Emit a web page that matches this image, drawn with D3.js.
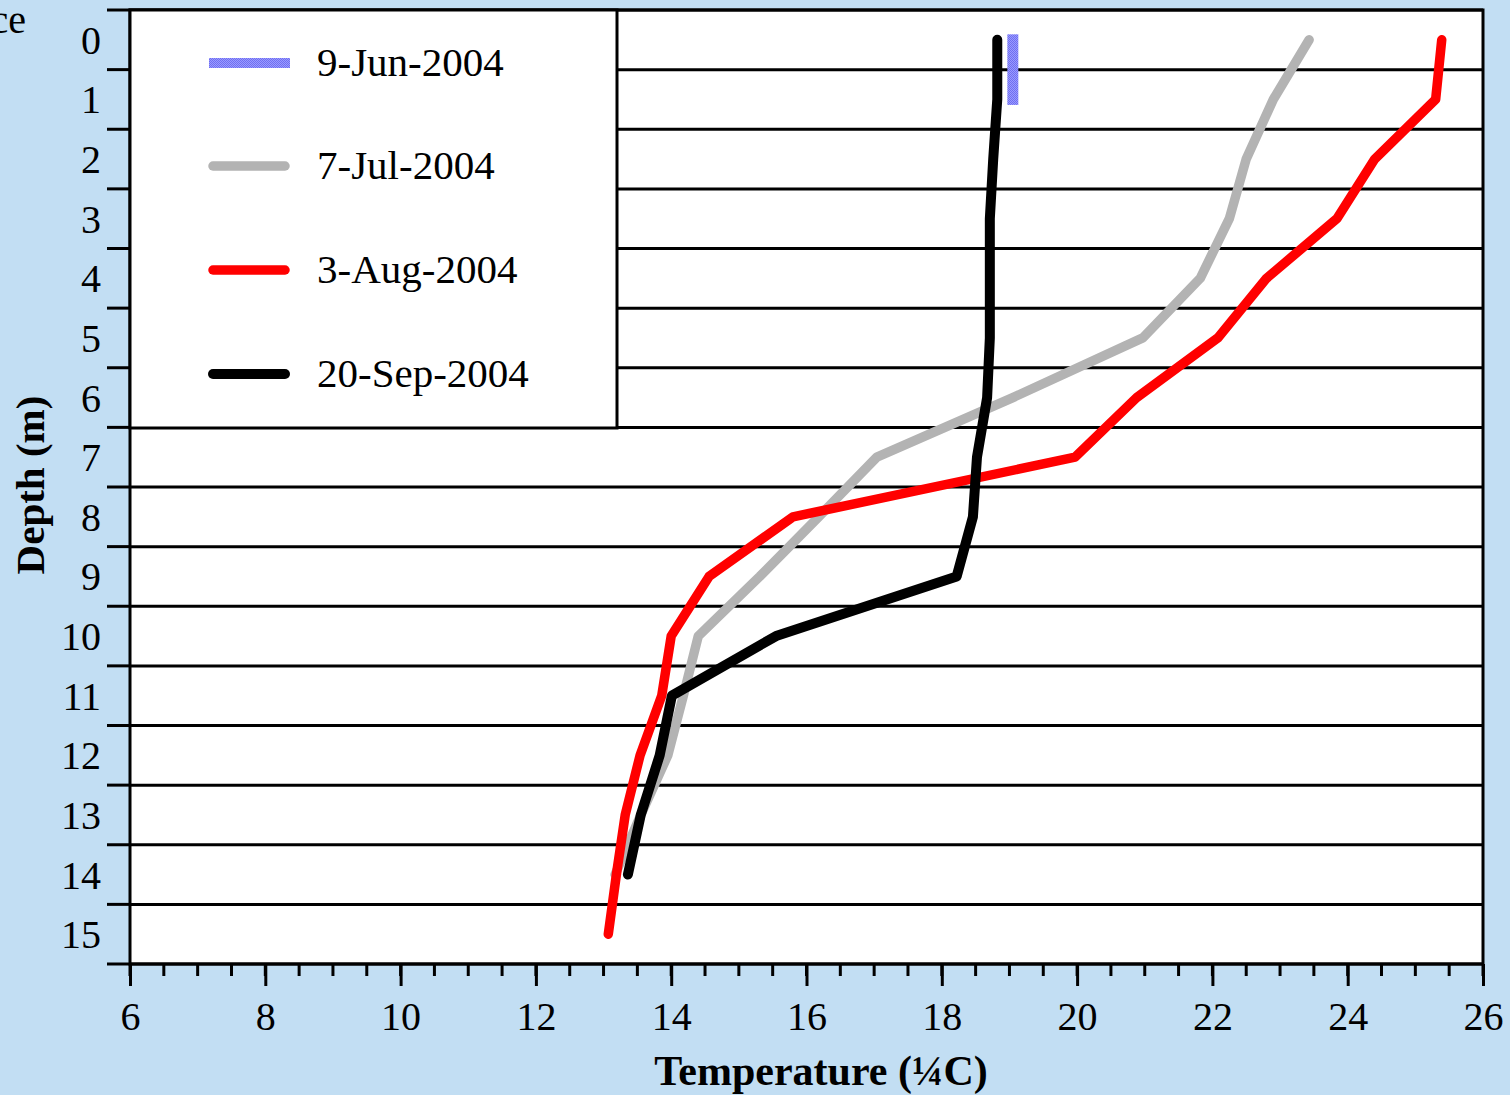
<!DOCTYPE html>
<html><head><meta charset="utf-8">
<script src="https://cdn.jsdelivr.net/npm/d3@7"></script>
<style>
html,body{margin:0;padding:0;background:#c2def3;}
svg{display:block;}
text{font-family:"Liberation Serif","Times New Roman",serif;fill:#000;}
</style>
</head><body>
<svg id="chart" width="1510" height="1095"></svg>
<script>
// ---- data ----
const depths = [0,1,2,3,4,5,6,7,8,9,10,11,12,13,14,15];
const jun9Depths = [0,1];
const jun9Temps = [19.05,19.05];
const jul7Temps = [23.43,22.9,22.5,22.25,21.82,20.97,19.05,17.04,16.18,15.31,14.4,14.18,13.95,13.55,13.17];
const aug3Temps = [25.39,25.3,24.4,23.84,22.8,22.08,20.88,19.97,15.8,14.56,14.0,13.86,13.54,13.32,13.19,13.07];
const sep20Temps = [18.82,18.82,18.76,18.71,18.71,18.71,18.67,18.52,18.46,18.22,15.55,14.01,13.83,13.55,13.36];
const seriesNames = ["9-Jun-2004","7-Jul-2004","3-Aug-2004","20-Sep-2004"];
const xTickValues = [6,8,10,12,14,16,18,20,22,24,26];
const yTickLabels = [0,1,2,3,4,5,6,7,8,9,10,11,12,13,14,15];
const gridDepths = [-0.5,0.5,1.5,2.5,3.5,4.5,5.5,6.5,7.5,8.5,9.5,10.5,11.5,12.5,13.5,14.5,15.5];
const xTitle = "Temperature (¼C)";
const yTitle = "Depth (m)";
const cornerText = "Surface";

// ---- layout ----
const L = 130, R = 1483, T = 10, B = 964;
const svg = d3.select("#chart");
const x = d3.scaleLinear().domain([6,26]).range([L,R]);
const y = d3.scaleLinear().domain([-0.5,15.5]).range([T,B]);

const defs = svg.append("defs");
const pat = defs.append("pattern").attr("id","blueDots").attr("patternUnits","userSpaceOnUse")
  .attr("width",2).attr("height",2);
pat.append("rect").attr("width",2).attr("height",2).attr("fill","#9a9aff");
pat.append("rect").attr("width",1).attr("height",1).attr("fill","#6f6ff0");
pat.append("rect").attr("x",1).attr("y",1).attr("width",1).attr("height",1).attr("fill","#6f6ff0");

// corner text (clipped at left edge, as in the reference)
svg.append("text").attr("x",26).attr("y",33).attr("text-anchor","end")
  .style("font-size","40px").text(cornerText);

// plot area
svg.append("rect").attr("x",L).attr("y",T).attr("width",R-L).attr("height",B-T).attr("fill","#fff");

// gridlines
svg.append("g").selectAll("line").data(gridDepths).join("line")
  .attr("x1",L).attr("x2",R).attr("y1",d=>y(d)).attr("y2",d=>y(d))
  .attr("stroke","#000").attr("stroke-width",3);

// y-axis ticks (left) at half depths, labels at integers
const yAxis = svg.append("g");
yAxis.selectAll("line").data(gridDepths).join("line")
  .attr("x1",L-23).attr("x2",L).attr("y1",d=>y(d)).attr("y2",d=>y(d))
  .attr("stroke","#000").attr("stroke-width",3);
yAxis.selectAll("text").data(yTickLabels).join("text")
  .attr("x",101).attr("y",d=>y(d)).attr("dy","0.35em").attr("text-anchor","end")
  .style("font-size","40px").text(d=>d);

// x-axis via d3.axisBottom (major) + minor ticks
const minorTicks = d3.range(6,26.01,0.5);
const xg = svg.append("g").attr("transform",`translate(0,${B})`);
xg.selectAll("line.minor").data(minorTicks).join("line").attr("class","minor")
  .attr("x1",d=>x(d)).attr("x2",d=>x(d)).attr("y1",0).attr("y2",12)
  .attr("stroke","#000").attr("stroke-width",3);
const xAxisG = svg.append("g").attr("transform",`translate(0,${B})`)
  .call(d3.axisBottom(x).tickValues(xTickValues).tickSize(22).tickPadding(16).tickFormat(d3.format("d")));
xAxisG.select(".domain").remove();
xAxisG.selectAll(".tick line").attr("stroke","#000").attr("stroke-width",3);
xAxisG.selectAll(".tick text").style("font-size","40px").style("font-family","Liberation Serif, serif").attr("fill","#000");

// frame
svg.append("rect").attr("x",L).attr("y",T).attr("width",R-L).attr("height",B-T)
  .attr("fill","none").attr("stroke","#000").attr("stroke-width",3);

// lines
const line = d3.line().x(d=>x(d[0])).y(d=>y(d[1]));
const plotG = svg.append("g");
plotG.append("path").datum(jul7Temps.map((t,i)=>[t,depths[i]]))
  .attr("d",line).attr("fill","none").attr("stroke","#b3b3b3").attr("stroke-width",9.5)
  .attr("stroke-linecap","round").attr("stroke-linejoin","round");
plotG.append("path").datum(aug3Temps.map((t,i)=>[t,depths[i]]))
  .attr("d",line).attr("fill","none").attr("stroke","#ff0000").attr("stroke-width",9.5)
  .attr("stroke-linecap","round").attr("stroke-linejoin","round");
plotG.append("path").datum(sep20Temps.map((t,i)=>[t,depths[i]]))
  .attr("d",line).attr("fill","none").attr("stroke","#000").attr("stroke-width",10)
  .attr("stroke-linecap","round").attr("stroke-linejoin","round");
plotG.append("path").datum(jun9Temps.map((t,i)=>[t,jun9Depths[i]]))
  .attr("d",line).attr("fill","none").attr("stroke","url(#blueDots)").attr("stroke-width",11)
  .attr("stroke-linecap","square");

// legend
const lg = svg.append("g");
lg.append("rect").attr("x",L).attr("y",T).attr("width",617-L).attr("height",428-T)
  .attr("fill","#fff").attr("stroke","#000").attr("stroke-width",3);
const legendY = [63,166,270,374];
const legendStyles = [
  {stroke:"url(#blueDots)",w:10,cap:"butt"},
  {stroke:"#b3b3b3",w:9.5,cap:"round"},
  {stroke:"#ff0000",w:9.5,cap:"round"},
  {stroke:"#000",w:10,cap:"round"}
];
seriesNames.forEach((name,i)=>{
  const s = legendStyles[i];
  if(i===0){
    lg.append("rect").attr("x",209).attr("y",legendY[i]-5).attr("width",81).attr("height",10).attr("fill",s.stroke);
  } else {
    lg.append("line").attr("x1",213).attr("x2",285).attr("y1",legendY[i]).attr("y2",legendY[i])
      .attr("stroke",s.stroke).attr("stroke-width",s.w).attr("stroke-linecap",s.cap);
  }
  lg.append("text").attr("x",317).attr("y",legendY[i]+13).style("font-size","41px").text(name);
});

// axis titles
svg.append("text").attr("x",821).attr("y",1085).attr("text-anchor","middle")
  .style("font-size","42px").style("font-weight","bold").text(xTitle);
svg.append("text").attr("transform","translate(44,485) rotate(-90)").attr("text-anchor","middle")
  .style("font-size","41px").style("font-weight","bold").text(yTitle);
</script>
</body></html>
